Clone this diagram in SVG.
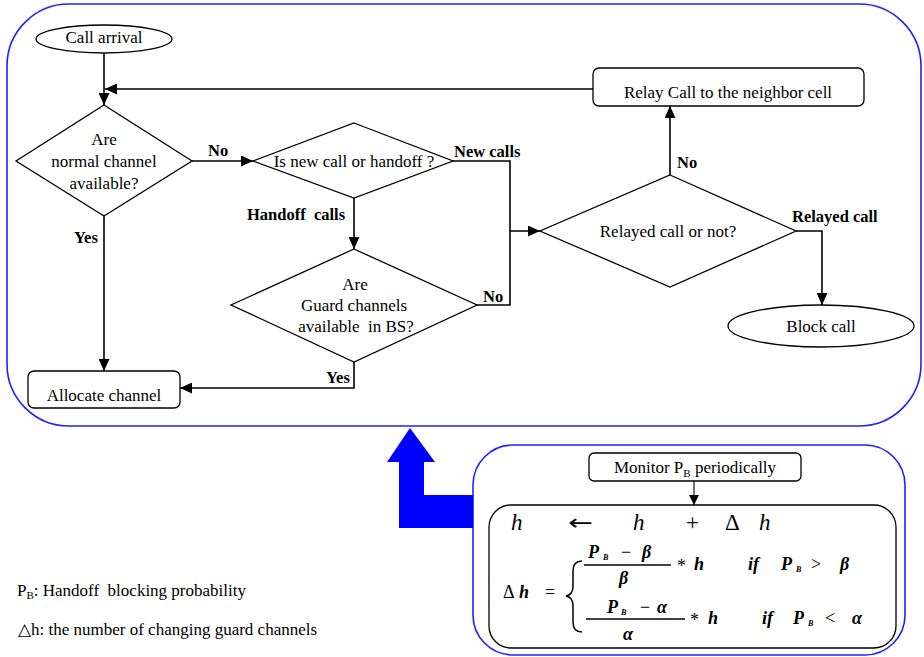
<svg xmlns="http://www.w3.org/2000/svg" width="924" height="657" viewBox="0 0 924 657">
<style>
.t{font-family:"Liberation Serif","Times New Roman",serif;font-size:17px;fill:#000;white-space:pre}
.c{text-anchor:middle}
.b{font-weight:bold;font-size:16.5px}
.lg{font-size:17px}
.shape{fill:#fff;stroke:#000;stroke-width:1.3}
.conn{fill:none;stroke:#000;stroke-width:1.6}
.panel{fill:none;stroke:#2020ff;stroke-width:1.6}
.m{font-family:"Liberation Serif","Times New Roman",serif;font-style:italic;font-weight:bold;font-size:18px;fill:#000}
.op{font-family:"Liberation Serif","Times New Roman",serif;font-size:18px;fill:#000}
.big{font-size:23px}
.arr{font-family:"DejaVu Sans",sans-serif;font-size:22px;fill:#000}
.it{font-style:italic}
.ms{font-size:8px}
.fl{stroke:#000;stroke-width:1.6}
</style>
<defs>
<marker id="ah" viewBox="0 0 12 11" refX="12" refY="5.5" markerWidth="12" markerHeight="11" markerUnits="userSpaceOnUse" orient="auto"><path d="M0,0L12,5.5L0,11z" fill="#000"/></marker>
<marker id="ahs" viewBox="0 0 10 10" refX="10" refY="5" markerWidth="10" markerHeight="10" markerUnits="userSpaceOnUse" orient="auto"><path d="M0,0L10,5L0,10z" fill="#000"/></marker>
</defs>

<g id="panel-top"><rect class="panel" x="7" y="4" width="914" height="422" rx="62" ry="62"/></g>
<g id="panel-bottom"><rect class="panel" x="473" y="445" width="432" height="210" rx="40" ry="40"/></g>
<g id="feedback-arrow"><polygon points="410,428 435,462 424,462 424,495 473,495 473,528 399,528 399,462 387,462" fill="#0000ff"/></g>

<g id="connectors">
<path class="conn" d="M104,53V105" marker-end="url(#ah)"/>
<path class="conn" d="M593,89H105" marker-end="url(#ah)"/>
<path class="conn" d="M192,161H253" marker-end="url(#ah)"/>
<path class="conn" d="M104,216V371" marker-end="url(#ah)"/>
<path class="conn" d="M453,161H510V231H540" marker-end="url(#ah)"/>
<path class="conn" d="M477,305H510V231"/>
<path class="conn" d="M354,198V249" marker-end="url(#ah)"/>
<path class="conn" d="M354,362V388H180" marker-end="url(#ah)"/>
<path class="conn" d="M670,175V106" marker-end="url(#ah)"/>
<path class="conn" d="M796,231H822V305" marker-end="url(#ah)"/>
<path d="M694,481V505" fill="none" stroke="#000" stroke-width="1.1" marker-end="url(#ahs)"/>
<text class="t b" x="208" y="156">No</text>
<text class="t b" x="74" y="243">Yes</text>
<text class="t b" x="454" y="157">New calls</text>
<text class="t b" x="247" y="220">Handoff  calls</text>
<text class="t b" x="483" y="302">No</text>
<text class="t b" x="326" y="383">Yes</text>
<text class="t b" x="677" y="168">No</text>
<text class="t b" x="792" y="222">Relayed call</text>
</g>

<g id="call-arrival">
<ellipse class="shape" cx="104" cy="39" rx="68" ry="14"/>
<text class="t c" x="104" y="43">Call arrival</text>
</g>

<g id="normal-channel">
<polygon class="shape" points="104,105 192,161 104,216 16,161"/>
<text class="t c" x="104" y="145">Are</text>
<text class="t c" x="104" y="167">normal channel</text>
<text class="t c" x="104" y="189">available?</text>
</g>

<g id="new-or-handoff">
<polygon class="shape" points="354,123 453,161 354,198 253,161"/>
<text class="t c" x="354" y="167">Is new call or handoff ?</text>
</g>

<g id="guard-channels">
<polygon class="shape" points="354,249 477,305 354,362 231,305"/>
<text class="t c" x="355" y="290">Are</text>
<text class="t c" x="354" y="311">Guard channels</text>
<text class="t c" x="356" y="332">available  in BS?</text>
</g>

<g id="allocate">
<rect class="shape" x="28" y="371" width="152" height="37" rx="6"/>
<text class="t c" x="104" y="401">Allocate channel</text>
</g>

<g id="relay-box">
<rect class="shape" x="593" y="68" width="271" height="38" rx="6"/>
<text class="t c" x="728" y="98">Relay Call to the neighbor cell</text>
</g>

<g id="relayed-decision">
<polygon class="shape" points="670,175 796,231 670,287 540,231"/>
<text class="t c" x="668" y="237">Relayed call or not?</text>
</g>

<g id="block-call">
<ellipse class="shape" cx="821" cy="326" rx="93" ry="21"/>
<text class="t c" x="821" y="332">Block call</text>
</g>

<g id="monitor">
<rect class="shape" x="589" y="453" width="212" height="28" rx="5"/>
<text class="t c" x="695" y="473">Monitor P<tspan font-size="11" dy="4">B</tspan><tspan dy="-4"> periodically</tspan></text>
</g>

<g id="formula">
<rect class="shape" x="489" y="505" width="407" height="143" rx="22"/>
<text class="op big it" x="511" y="530">h</text>
<text class="arr" x="568" y="530" textLength="25" lengthAdjust="spacingAndGlyphs">←</text>
<text class="op big it" x="633" y="530">h</text>
<text class="op big" x="686" y="530">+</text>
<text class="op big" x="725" y="530">Δ</text>
<text class="op big it" x="759" y="530">h</text>

<text class="op" x="503" y="598">Δ</text>
<text class="m" x="519" y="598">h</text>
<text class="op" x="545" y="598">=</text>
<path d="M582,561Q573,561 573,571V586Q573,595 566,596Q573,597 573,606V622Q573,632 582,632" fill="none" stroke="#000" stroke-width="1.5"/>

<text class="m" x="588" y="558">P</text><text class="m ms" x="603" y="560">B</text>
<text class="op" x="621" y="558">−</text>
<text class="m" x="642" y="558">β</text>
<line class="fl" x1="584" y1="565" x2="671" y2="565"/>
<text class="m" x="619" y="584">β</text>
<text class="op" x="677" y="572">*</text>
<text class="m" x="694" y="570">h</text>
<text class="m" x="748" y="570">if</text>
<text class="m" x="781" y="570">P</text><text class="m ms" x="796" y="572">B</text>
<text class="op" x="811" y="570">&gt;</text>
<text class="m" x="840" y="570">β</text>

<text class="m" x="607" y="613">P</text><text class="m ms" x="621" y="615">B</text>
<text class="op" x="640" y="613">−</text>
<text class="m" x="657" y="613">α</text>
<line class="fl" x1="586" y1="619" x2="685" y2="619"/>
<text class="m" x="623" y="640">α</text>
<text class="op" x="690" y="626">*</text>
<text class="m" x="708" y="624">h</text>
<text class="m" x="762" y="624">if</text>
<text class="m" x="793" y="624">P</text><text class="m ms" x="808" y="626">B</text>
<text class="op" x="825" y="624">&lt;</text>
<text class="m" x="852" y="624">α</text>
</g>

<g id="legend">
<text class="t lg" x="17" y="596">P<tspan font-size="11" dy="3">B</tspan><tspan dy="-3">: Handoff  blocking probability</tspan></text>
<text class="t lg" x="18" y="635">△h: the number of changing guard channels</text>
</g>
</svg>
